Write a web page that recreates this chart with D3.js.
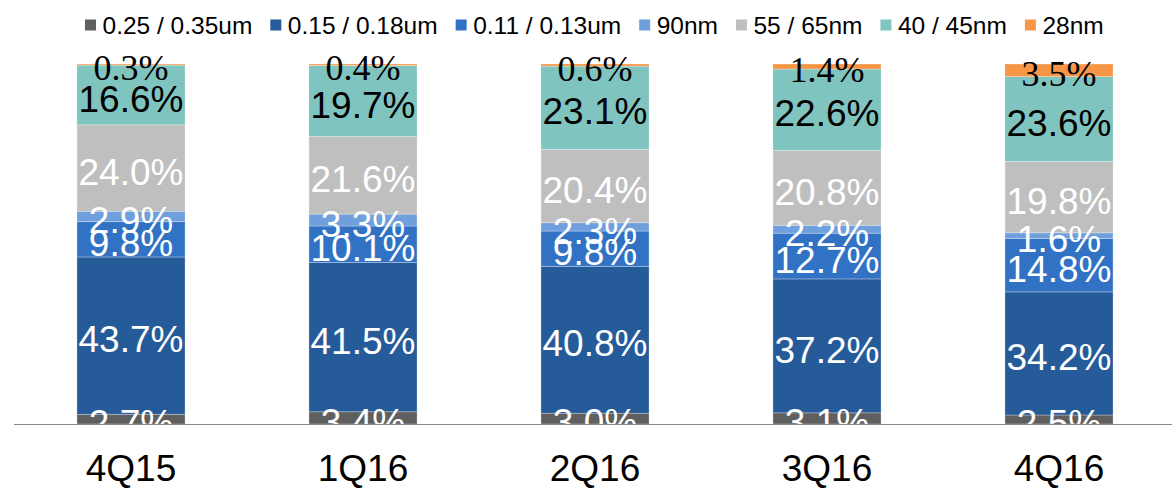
<!DOCTYPE html>
<html>
<head>
<meta charset="utf-8">
<script src="https://cdn.jsdelivr.net/npm/d3@7"></script>
<style>
    body { margin: 0; background: #fff; }
    svg { display: block; font-family: "Liberation Sans", Arial, sans-serif; }
</style>
</head>
<body>
<div id="wrapper"></div>
<script>
// 1. Data

const quarters = ["4Q15", "1Q16", "2Q16", "3Q16", "4Q16"]
const nodes = ["0.25 / 0.35um", "0.15 / 0.18um", "0.11 / 0.13um", "90nm", "55 / 65nm", "40 / 45nm", "28nm"]
const nodeColors = ["#5f5f5f", "#265b9a", "#3272c4", "#6f9fdc", "#bfbfbf", "#80c4c0", "#f79646"]
const labelColors = ["#fff", "#fff", "#fff", "#fff", "#fff", "#000", "#000"]

const share025 = [2.7, 3.4, 3.0, 3.1, 2.5]
const share015 = [43.7, 41.5, 40.8, 37.2, 34.2]
const share011 = [9.8, 10.1, 9.8, 12.7, 14.8]
const share90 = [2.9, 3.3, 2.3, 2.2, 1.6]
const share55 = [24.0, 21.6, 20.4, 20.8, 19.8]
const share40 = [16.6, 19.7, 23.1, 22.6, 23.6]
const share28 = [0.3, 0.4, 0.6, 1.4, 3.5]

const seriesValues = [share025, share015, share011, share90, share55, share40, share28]

// build table for the stack
const table = quarters.map((q, i) => {
    const row = {quarter: q}
    nodes.forEach((n, j) => row[n] = seriesValues[j][i])
    return row
})

// 2. Dimensions

const width = 1172
const height = 490
const axisY = 424
const topY = 64

const svg = d3.select("#wrapper").append("svg")
    .attr("width", width)
    .attr("height", height)

// 3. Scales

const xScale = d3.scaleBand()
    .domain(quarters)
    .range([15, 1175])
    .paddingInner(0.534)
    .paddingOuter(0.267)

const yScale = d3.scaleLinear()
    .domain([0, 100])
    .range([axisY, topY])

const stack = d3.stack().keys(nodes)
const layers = stack(table)

// 4. Bars

const bars = svg.append("g")
layers.forEach((layer, j) => {
    bars.selectAll(null)
        .data(layer)
        .join("rect")
        .attr("x", d => xScale(d.data.quarter))
        .attr("width", xScale.bandwidth())
        .attr("y", d => yScale(d[1]))
        .attr("height", d => yScale(d[0]) - yScale(d[1]))
        .attr("fill", nodeColors[j])
        .attr("stroke", "rgba(255,255,255,0.35)")
        .attr("stroke-width", 0.8)
})

// labels, clipped at the axis line
svg.append("defs").append("clipPath")
    .attr("id", "plot-clip")
    .append("rect")
    .attr("x", 0).attr("y", 0)
    .attr("width", width).attr("height", axisY)

const labels = svg.append("g").attr("clip-path", "url(#plot-clip)")
layers.forEach((layer, j) => {
    const isTop = j === nodes.length - 1
    labels.selectAll(null)
        .data(layer)
        .join("text")
        .attr("x", d => xScale(d.data.quarter) + xScale.bandwidth() / 2)
        .attr("y", d => (yScale(d[0]) + yScale(d[1])) / 2 + (isTop ? 15.5 : 16.7))
        .attr("text-anchor", "middle")
        .style("font-family", isTop ? "'Liberation Serif', 'Times New Roman', serif" : null)
        .style("font-size", isTop ? "36px" : "37px")
        .attr("fill", labelColors[j])
        .text(d => `${d3.format(".1f")(d[1] - d[0])}%`)
})

// 5. Axis

svg.append("line")
    .attr("x1", 14).attr("x2", width)
    .attr("y1", axisY + 0.5).attr("y2", axisY + 0.5)
    .attr("stroke", "#898989")
    .attr("stroke-width", 1.2)

svg.append("g")
    .selectAll("text")
    .data(quarters)
    .join("text")
    .attr("x", d => xScale(d) + xScale.bandwidth() / 2)
    .attr("y", 481)
    .attr("text-anchor", "middle")
    .style("font-size", "37px")
    .attr("fill", "#000")
    .text(d => d)

// 6. Legend

const legend = svg.append("g")
let legendX = 85
nodes.forEach((n, j) => {
    legend.append("rect")
        .attr("x", legendX)
        .attr("y", 19.5)
        .attr("width", 11)
        .attr("height", 11)
        .attr("fill", nodeColors[j])
    const t = legend.append("text")
        .attr("x", legendX + 17.5)
        .attr("y", 33.5)
        .style("font-size", "24.5px")
        .attr("fill", "#000")
        .text(n)
    legendX += 17.5 + t.node().getComputedTextLength() + 18
})
</script>
</body>
</html>
